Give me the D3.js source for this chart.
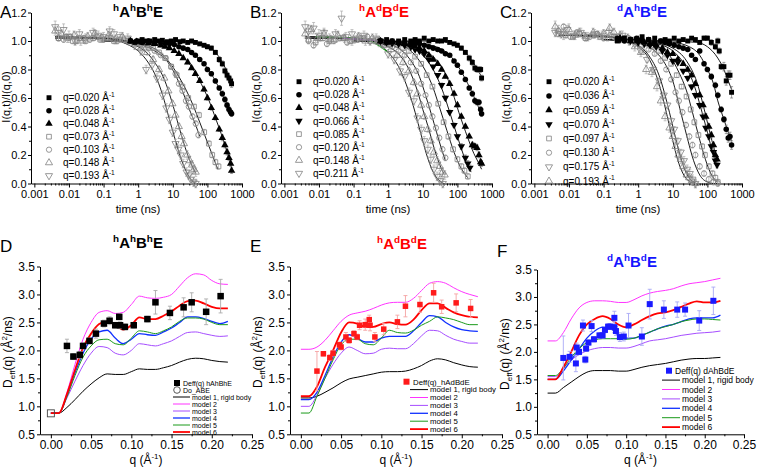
<!DOCTYPE html>
<html><head><meta charset="utf-8">
<script src="https://cdn.jsdelivr.net/npm/d3@7"></script>
<style>body{margin:0;background:#fff}svg text{font-family:Arial,"Liberation Sans",sans-serif}</style>
</head><body>
<svg id="c" width="757" height="467"></svg>
<script>
// ---------------- DATA ----------------
const topXTicks = [0.001,0.01,0.1,1,10,100,1000];
const topYTicks = [0,0.2,0.4,0.6,0.8,1.0,1.2];
const botXTicks = [0,0.05,0.10,0.15,0.20,0.25];
const botYTicks = [0.5,1.0,1.5,2.0,2.5,3.0,3.5];

// Panel A  (t [ns], I(q,t)/I(q,0), error)
const A_q = ["0.020","0.028","0.048","0.073","0.103","0.148","0.193"];
const A_sym = ["sqF","ciF","trF","sqO","ciO","trO","tdO"];
const A_pts = [
 [[0.6,1.0,0.01],[0.8,0.99,0.01],[1,1.0,0.01],[1.3,1.01,0.01],[1.7,1.0,0.01],[2.2,1.0,0.01],[3,1.01,0.01],[4,1.0,0.01],[5,1.005,0.01],[7,0.995,0.01],[9,1.0,0.01],[12,1.01,0.01],[16,0.995,0.01],[20,1.0,0.01],[27,0.99,0.01],[35,1.0,0.01],[45,0.99,0.01],[60,0.98,0.01],[80,0.97,0.01],[100,0.96,0.015],[130,0.95,0.015],[170,0.92,0.015],[220,0.87,0.02],[270,0.84,0.02],[320,0.79,0.02],[370,0.76,0.02],[420,0.74,0.02],[470,0.72,0.025],[500,0.70,0.025]],
 [[0.6,1.0,0.01],[0.9,1.0,0.01],[1.3,0.99,0.01],[2,1.0,0.01],[3,0.99,0.01],[4.5,0.99,0.01],[6,0.985,0.01],[8,0.98,0.01],[11,0.975,0.01],[15,0.96,0.01],[20,0.95,0.01],[27,0.94,0.01],[35,0.92,0.01],[45,0.9,0.01],[60,0.87,0.01],[80,0.84,0.01],[100,0.8,0.015],[130,0.77,0.015],[170,0.72,0.015],[220,0.67,0.015],[270,0.63,0.02],[320,0.59,0.02],[370,0.55,0.02],[420,0.52,0.02],[470,0.5,0.02],[500,0.49,0.02]],
 [[0.6,1.0,0.01],[0.9,0.995,0.01],[1.3,0.99,0.01],[2,0.985,0.01],[3,0.98,0.01],[4.5,0.97,0.01],[6,0.96,0.01],[8,0.95,0.01],[11,0.93,0.01],[15,0.91,0.01],[20,0.88,0.01],[27,0.85,0.01],[35,0.81,0.01],[45,0.77,0.01],[60,0.72,0.01],[80,0.66,0.015],[100,0.6,0.015],[130,0.53,0.015],[170,0.46,0.015],[220,0.38,0.015],[270,0.32,0.02],[320,0.27,0.02],[370,0.22,0.02],[420,0.18,0.02],[470,0.14,0.02],[500,0.09,0.02]],
 [[0.005,1.02,0.02],[0.008,1.03,0.02],[0.013,1.0,0.02],[0.02,1.02,0.02],[0.03,1.0,0.02],[0.05,1.02,0.02],[0.08,1.01,0.02],[0.13,1.02,0.02],[0.2,1.0,0.02],[0.3,1.01,0.02],[0.5,1.0,0.02],[0.8,0.99,0.01],[1.2,0.98,0.01],[1.8,0.97,0.01],[2.7,0.95,0.01],[4,0.92,0.01],[6,0.88,0.01],[9,0.82,0.015],[13,0.76,0.015],[19,0.68,0.015],[28,0.6,0.015],[41,0.54,0.015],[57,0.48,0.02],[81,0.36,0.02],[110,0.28,0.02],[138,0.2,0.02],[170,0.15,0.02],[210,0.12,0.02]],
 [[0.005,1.02,0.02],[0.007,1.01,0.02],[0.011,1.03,0.02],[0.017,1.0,0.02],[0.027,1.02,0.02],[0.04,1.01,0.02],[0.065,1.03,0.02],[0.1,1.01,0.02],[0.16,1.02,0.02],[0.25,1.0,0.02],[0.4,1.01,0.02],[0.6,1.0,0.02],[0.9,0.99,0.01],[1.3,0.97,0.01],[2,0.95,0.01],[3,0.93,0.01],[4.5,0.9,0.01],[6.3,0.88,0.015],[9,0.82,0.015],[12,0.77,0.015],[15,0.7,0.015],[19,0.65,0.015],[24,0.58,0.02],[29,0.54,0.02],[37,0.47,0.02],[46,0.42,0.02],[55,0.34,0.02]],
 [[0.004,1.07,0.03],[0.006,1.05,0.03],[0.009,1.02,0.03],[0.014,1.04,0.03],[0.022,1.0,0.03],[0.035,1.03,0.03],[0.055,1.05,0.03],[0.09,1.02,0.03],[0.14,1.04,0.03],[0.22,1.01,0.03],[0.35,1.03,0.03],[0.55,1.0,0.03],[0.8,0.98,0.02],[1.2,0.95,0.02],[1.8,0.92,0.02],[2.7,0.87,0.02],[4,0.8,0.02],[5.7,0.74,0.02],[7.5,0.65,0.02],[9.8,0.56,0.02],[12,0.48,0.02],[15,0.4,0.02],[18,0.33,0.02],[21,0.28,0.02],[26,0.2,0.03],[31,0.16,0.03],[36,0.13,0.03],[41,0.1,0.03],[46,0.08,0.03]],
 [[0.004,1.1,0.04],[0.005,1.06,0.04],[0.007,1.08,0.04],[0.01,1.03,0.04],[0.015,1.0,0.03],[0.02,1.05,0.03],[0.03,1.02,0.03],[0.05,1.06,0.03],[0.07,1.04,0.03],[0.1,1.03,0.03],[0.15,1.07,0.03],[0.2,1.05,0.03],[0.3,1.03,0.03],[0.5,1.02,0.03],[0.8,0.97,0.03],[1.2,0.93,0.03],[1.7,0.8,0.03],[2.5,0.83,0.03],[3.5,0.74,0.03],[5.1,0.62,0.03],[6.5,0.53,0.03],[8,0.45,0.03],[10,0.36,0.03],[12,0.28,0.03],[14.5,0.24,0.03],[17,0.2,0.03],[20,0.14,0.03],[25,0.08,0.03],[29,0.06,0.03],[33,0.03,0.03],[40,0.01,0.03],[46,0.0,0.03]]
];
const A_fit = [
 [[0.1,1.0],[1,1.0],[10,1.0],[30,0.99],[60,0.98],[100,0.96],[150,0.935],[200,0.9],[300,0.83],[400,0.77],[500,0.72]],
 [[0.1,1.0],[1,1.0],[3,0.995],[10,0.975],[20,0.95],[40,0.91],[60,0.87],[100,0.81],[170,0.72],[250,0.64],[335,0.58],[420,0.53],[500,0.49]],
 [[0.1,1.0],[1,0.995],[3,0.98],[10,0.94],[20,0.885],[30,0.84],[57,0.73],[112,0.58],[177,0.45],[250,0.35],[330,0.26],[420,0.18],[510,0.1]],
 [[0.004,1.02],[0.1,1.02],[0.5,1.0],[1,0.985],[2,0.965],[4,0.925],[8,0.85],[15,0.75],[25,0.65],[40,0.54],[60,0.43],[100,0.29],[150,0.18],[200,0.1]],
 [[0.004,1.02],[0.1,1.015],[0.5,1.0],[1,0.98],[2,0.955],[4,0.91],[6.3,0.87],[12,0.76],[19,0.65],[29,0.53],[46,0.41],[60,0.33]],
 [[0.004,1.03],[0.1,1.02],[0.5,0.99],[1,0.96],[2,0.905],[3,0.85],[5.7,0.73],[9.8,0.56],[15,0.4],[21,0.28],[30,0.17],[40,0.1],[46,0.07]],
 [[0.004,1.03],[0.1,1.02],[0.5,0.975],[1,0.93],[2,0.845],[3,0.77],[5.1,0.62],[8,0.45],[12,0.3],[17,0.18],[25,0.08],[33,0.03],[45,0.0]]
];

// Panel B
const B_q = ["0.020","0.028","0.048","0.066","0.085","0.120","0.148","0.211"];
const B_sym = ["sqF","ciF","trF","tdF","sqO","ciO","trO","tdO"];
const B_pts = [
 [[0.6,1.0,0.01],[0.9,1.01,0.01],[1.3,1.0,0.01],[2,1.0,0.01],[3,1.01,0.01],[4.5,1.0,0.01],[6,1.01,0.01],[8,1.0,0.01],[11,1.02,0.01],[15,1.0,0.01],[20,1.01,0.01],[27,1.0,0.01],[35,1.0,0.01],[45,1.01,0.01],[60,0.99,0.01],[80,0.98,0.01],[100,0.97,0.015],[130,0.95,0.015],[170,0.92,0.015],[220,0.88,0.02],[270,0.85,0.02],[320,0.81,0.02],[370,0.8,0.02],[420,0.8,0.02],[470,0.8,0.02],[500,0.74,0.02]],
 [[0.6,1.0,0.01],[0.9,0.99,0.01],[1.3,1.0,0.01],[2,0.99,0.01],[3,0.99,0.01],[4.5,0.985,0.01],[6,0.98,0.01],[8,0.98,0.01],[11,0.97,0.01],[15,0.96,0.01],[20,0.95,0.01],[27,0.94,0.01],[35,0.93,0.01],[45,0.91,0.01],[60,0.9,0.01],[80,0.86,0.01],[100,0.83,0.015],[130,0.78,0.015],[170,0.73,0.015],[220,0.67,0.015],[270,0.63,0.02],[320,0.58,0.02],[370,0.57,0.02],[420,0.57,0.02],[470,0.52,0.02],[500,0.49,0.02]],
 [[0.6,1.0,0.01],[0.9,0.99,0.01],[1.3,0.99,0.01],[2,0.985,0.01],[3,0.98,0.01],[4.5,0.97,0.01],[6,0.96,0.01],[8,0.95,0.01],[11,0.93,0.01],[15,0.9,0.01],[20,0.87,0.01],[27,0.84,0.01],[35,0.8,0.01],[45,0.75,0.01],[60,0.7,0.01],[80,0.63,0.015],[100,0.55,0.015],[130,0.47,0.015],[170,0.4,0.015],[220,0.33,0.015],[270,0.27,0.02],[320,0.26,0.02],[370,0.25,0.02],[420,0.2,0.02],[470,0.15,0.02],[500,0.14,0.02]],
 [[0.6,1.0,0.01],[0.9,0.99,0.01],[1.3,0.985,0.01],[2,0.98,0.01],[3,0.97,0.01],[4.5,0.96,0.01],[6,0.94,0.01],[8,0.93,0.01],[11,0.91,0.01],[15,0.87,0.01],[20,0.82,0.01],[27,0.76,0.01],[35,0.69,0.015],[45,0.6,0.015],[60,0.5,0.015],[80,0.41,0.015],[100,0.33,0.015],[130,0.26,0.02],[170,0.18,0.02],[200,0.14,0.02],[230,0.11,0.02]],
 [[0.005,1.01,0.02],[0.008,0.99,0.02],[0.013,1.02,0.02],[0.02,1.0,0.02],[0.03,1.01,0.02],[0.05,1.02,0.02],[0.08,1.0,0.02],[0.13,1.01,0.02],[0.2,1.02,0.02],[0.3,1.0,0.02],[0.5,1.01,0.02],[0.8,0.99,0.01],[1.2,0.98,0.01],[1.8,0.97,0.01],[2.7,0.95,0.01],[4,0.93,0.01],[6,0.89,0.01],[9,0.84,0.015],[13,0.76,0.015],[19,0.68,0.015],[28,0.56,0.015],[40,0.43,0.015],[55,0.33,0.02],[75,0.24,0.02],[100,0.17,0.02],[130,0.12,0.02],[160,0.09,0.02],[200,0.05,0.02]],
 [[0.005,1.0,0.02],[0.007,0.97,0.02],[0.011,1.02,0.02],[0.017,0.98,0.02],[0.027,1.0,0.02],[0.04,1.02,0.02],[0.065,0.99,0.02],[0.1,1.01,0.02],[0.16,1.02,0.02],[0.25,1.03,0.02],[0.4,1.0,0.02],[0.6,1.0,0.02],[0.9,0.98,0.01],[1.3,0.96,0.01],[2,0.93,0.01],[3,0.9,0.01],[4.5,0.85,0.015],[6.5,0.79,0.015],[9,0.7,0.015],[12,0.62,0.015],[15,0.55,0.02],[19,0.47,0.02],[24,0.39,0.02],[30,0.32,0.02],[37,0.24,0.02],[45,0.18,0.02]],
 [[0.004,1.05,0.03],[0.006,1.08,0.03],[0.009,1.02,0.03],[0.014,1.05,0.03],[0.022,1.01,0.03],[0.035,1.04,0.03],[0.055,1.02,0.03],[0.09,1.0,0.03],[0.14,1.03,0.03],[0.22,1.0,0.03],[0.35,1.02,0.03],[0.55,0.99,0.03],[0.8,0.97,0.02],[1.2,0.94,0.02],[1.8,0.9,0.02],[2.7,0.85,0.02],[4,0.79,0.02],[5.5,0.71,0.02],[7,0.63,0.02],[9,0.55,0.02],[11,0.47,0.02],[14,0.38,0.02],[17,0.3,0.02],[21,0.22,0.03],[26,0.16,0.03],[31,0.12,0.03],[37,0.08,0.03],[43,0.06,0.03]],
 [[0.004,1.1,0.04],[0.005,1.07,0.04],[0.007,1.09,0.04],[0.01,1.04,0.04],[0.014,1.06,0.03],[0.02,1.02,0.03],[0.03,1.05,0.03],[0.045,1.16,0.05],[0.06,1.03,0.03],[0.09,1.05,0.03],[0.13,1.02,0.03],[0.2,1.04,0.03],[0.3,1.0,0.03],[0.45,1.02,0.03],[0.7,0.98,0.03],[1,0.91,0.03],[1.5,0.87,0.03],[2.2,0.79,0.03],[3,0.75,0.03],[4,0.64,0.03],[5.5,0.58,0.03],[7,0.46,0.03],[9,0.38,0.03],[11,0.3,0.03],[14,0.24,0.03],[17,0.17,0.03],[21,0.1,0.03],[26,0.05,0.03],[32,0.02,0.03],[38,0.0,0.03]]
];
const B_fit = [
 [[0.1,1.0],[10,1.0],[30,0.995],[60,0.985],[100,0.965],[200,0.9],[300,0.84],[400,0.79],[500,0.75]],
 [[0.1,1.0],[3,0.995],[10,0.98],[30,0.95],[60,0.9],[100,0.83],[200,0.7],[300,0.61],[400,0.54],[500,0.49]],
 [[0.1,1.0],[1,1.0],[3,0.98],[10,0.94],[30,0.84],[60,0.7],[110,0.5],[200,0.32],[300,0.21],[400,0.15],[500,0.1]],
 [[0.1,1.0],[1,0.99],[3,0.97],[10,0.9],[20,0.8],[35,0.67],[60,0.5],[100,0.33],[150,0.2],[200,0.12],[250,0.08]],
 [[0.004,1.02],[0.1,1.015],[0.5,1.0],[1,0.99],[3,0.96],[6,0.9],[12,0.79],[20,0.67],[30,0.54],[50,0.37],[80,0.22],[120,0.12],[200,0.04]],
 [[0.004,1.02],[0.1,1.015],[0.5,1.0],[1,0.98],[2,0.95],[4,0.88],[8,0.75],[12,0.62],[18,0.48],[25,0.36],[35,0.24],[45,0.16]],
 [[0.004,1.03],[0.1,1.02],[0.5,0.99],[1,0.96],[2,0.91],[4,0.8],[7,0.65],[10,0.52],[15,0.38],[20,0.27],[30,0.14],[40,0.07]],
 [[0.004,1.03],[0.1,1.02],[0.5,0.98],[1,0.92],[2,0.82],[4,0.64],[6,0.5],[9,0.34],[13,0.2],[20,0.08],[30,0.02],[40,0.0]]
];
const B_green = [[0.008,1.03],[0.1,1.02],[0.3,1.0],[0.6,0.96],[1,0.92]];
const B_purple = [[0.05,1.02],[0.2,1.01],[0.5,1.0],[1,0.985]];

// Panel C
const C_q = ["0.020","0.036","0.059","0.070","0.097","0.130","0.175","0.193"];
const C_sym = ["sqF","ciF","trF","tdF","sqO","ciO","tdO","trO"];
const C_pts = [
 [[0.25,1.0,0.01],[0.4,1.02,0.01],[0.6,1.01,0.01],[0.9,1.0,0.01],[1.3,1.03,0.01],[2,1.01,0.01],[3,1.02,0.01],[4.5,1.0,0.01],[6,1.01,0.01],[8,1.0,0.01],[11,1.02,0.01],[15,1.0,0.01],[20,1.01,0.01],[27,1.0,0.01],[35,1.02,0.01],[45,1.01,0.01],[60,0.99,0.015],[80,1.02,0.015],[100,1.02,0.015],[130,0.99,0.02],[170,0.96,0.02],[200,1.0,0.02],[220,0.93,0.02],[250,0.82,0.02],[300,0.82,0.03],[350,0.72,0.03],[400,0.76,0.03],[450,0.76,0.03],[500,0.64,0.04]],
 [[0.25,1.02,0.01],[0.4,1.0,0.01],[0.6,1.01,0.01],[0.9,1.02,0.01],[1.3,1.0,0.01],[2,1.01,0.01],[3,0.99,0.01],[4.5,1.0,0.01],[6,0.99,0.01],[8,0.98,0.01],[11,0.97,0.01],[15,0.96,0.01],[20,0.95,0.01],[27,0.94,0.01],[35,0.9,0.01],[45,0.87,0.01],[60,0.93,0.015],[80,0.84,0.015],[100,0.8,0.015],[130,0.75,0.02],[170,0.69,0.02],[200,0.62,0.02],[250,0.52,0.02],[300,0.45,0.02],[350,0.38,0.03],[400,0.32,0.03],[450,0.33,0.03],[500,0.27,0.03]],
 [[0.3,1.02,0.01],[0.6,1.0,0.01],[1,1.01,0.01],[1.5,0.99,0.01],[2.2,0.98,0.01],[3.3,0.97,0.01],[5,0.95,0.01],[7,0.92,0.01],[10,0.91,0.01],[14,0.87,0.01],[20,0.84,0.01],[27,0.8,0.015],[35,0.76,0.015],[45,0.7,0.015],[60,0.62,0.015],[75,0.55,0.02],[90,0.47,0.02],[110,0.4,0.02],[130,0.34,0.02],[150,0.27,0.02],[170,0.2,0.02],[190,0.17,0.02]],
 [[0.3,1.01,0.01],[0.6,1.0,0.01],[1,0.99,0.01],[1.5,0.98,0.01],[2.2,0.97,0.01],[3.3,0.96,0.01],[5,0.93,0.01],[7,0.9,0.01],[10,0.86,0.01],[14,0.85,0.01],[20,0.79,0.01],[27,0.74,0.015],[35,0.68,0.015],[45,0.62,0.015],[60,0.55,0.015],[75,0.47,0.02],[90,0.39,0.02],[110,0.33,0.02],[130,0.26,0.02],[150,0.22,0.02],[170,0.16,0.02],[190,0.13,0.02]],
 [[0.005,1.05,0.02],[0.008,1.04,0.02],[0.013,1.03,0.02],[0.02,1.05,0.02],[0.03,1.02,0.02],[0.05,1.04,0.02],[0.08,1.03,0.02],[0.13,1.02,0.02],[0.2,1.03,0.02],[0.3,1.01,0.02],[0.5,1.02,0.02],[0.8,1.01,0.01],[1.2,1.0,0.01],[1.8,0.98,0.01],[2.7,0.96,0.01],[4,0.93,0.01],[6,0.88,0.01],[9,0.84,0.015],[13,0.76,0.015],[18,0.68,0.015],[25,0.61,0.015],[33,0.52,0.02],[42,0.43,0.02],[55,0.34,0.02],[70,0.26,0.02],[85,0.2,0.02],[110,0.12,0.02],[140,0.07,0.02],[170,0.04,0.02],[200,0.01,0.02]],
 [[0.005,1.07,0.02],[0.007,1.1,0.02],[0.011,1.03,0.02],[0.017,1.06,0.02],[0.027,1.04,0.02],[0.04,1.03,0.02],[0.065,1.05,0.02],[0.1,1.02,0.02],[0.16,1.04,0.02],[0.25,1.03,0.02],[0.4,1.02,0.02],[0.6,1.01,0.02],[0.9,0.99,0.01],[1.3,0.97,0.01],[2,0.94,0.01],[3,0.91,0.01],[4.5,0.86,0.015],[6.5,0.8,0.015],[9,0.73,0.015],[12,0.64,0.015],[15,0.58,0.02],[19,0.5,0.02],[24,0.41,0.02],[30,0.33,0.02],[37,0.27,0.02],[45,0.2,0.02],[60,0.12,0.02],[80,0.07,0.02],[110,0.03,0.02],[150,0.01,0.02],[200,0.0,0.02]],
 [[0.004,1.06,0.03],[0.006,1.05,0.03],[0.009,1.08,0.03],[0.014,1.04,0.03],[0.022,1.06,0.03],[0.035,1.03,0.03],[0.055,1.05,0.03],[0.09,1.04,0.03],[0.14,1.06,0.03],[0.22,1.02,0.03],[0.35,1.04,0.03],[0.55,1.0,0.03],[0.8,0.98,0.02],[1.2,0.93,0.02],[1.8,0.87,0.02],[2.7,0.8,0.02],[4,0.72,0.02],[5.5,0.62,0.02],[7,0.55,0.02],[9,0.44,0.02],[11,0.38,0.02],[14,0.3,0.02],[17,0.22,0.02],[21,0.16,0.03],[26,0.1,0.03],[31,0.07,0.03],[37,0.03,0.03],[45,0.0,0.03]],
 [[0.004,1.1,0.04],[0.005,1.07,0.04],[0.007,1.05,0.04],[0.01,1.08,0.04],[0.015,1.04,0.03],[0.02,1.06,0.03],[0.03,1.03,0.03],[0.05,1.06,0.03],[0.07,1.04,0.03],[0.1,1.05,0.03],[0.15,1.09,0.03],[0.2,1.06,0.03],[0.3,1.04,0.03],[0.5,1.02,0.03],[0.8,0.96,0.03],[1.2,0.92,0.03],[1.7,0.8,0.03],[2.5,0.78,0.03],[3.5,0.68,0.03],[4.5,0.58,0.03],[6,0.47,0.03],[8,0.39,0.03],[10,0.33,0.03],[12,0.26,0.03],[14.5,0.2,0.03],[17,0.17,0.03],[20,0.12,0.03],[25,0.06,0.03],[30,0.04,0.03],[36,0.02,0.03],[45,0.0,0.03]]
];
const C_fit = [
 [[0.1,1.01],[10,1.0],[50,0.99],[100,0.96],[200,0.88],[300,0.8],[400,0.72],[500,0.66]],
 [[0.1,1.01],[1,1.0],[10,0.99],[30,0.96],[60,0.9],[100,0.8],[150,0.7],[200,0.58],[300,0.45],[400,0.36],[500,0.3]],
 [[0.1,1.01],[1,1.0],[3,0.99],[10,0.95],[25,0.86],[50,0.71],[85,0.5],[120,0.35],[150,0.26],[190,0.18]],
 [[0.1,1.01],[1,1.0],[3,0.985],[10,0.93],[20,0.85],[40,0.7],[70,0.5],[100,0.36],[130,0.25],[190,0.12]],
 [[0.005,1.04],[0.1,1.03],[1,1.0],[3,0.97],[8,0.9],[15,0.78],[25,0.65],[37,0.5],[55,0.34],[80,0.2],[120,0.08],[160,0.03],[200,0.01]],
 [[0.005,1.04],[0.1,1.03],[0.5,1.01],[1,0.99],[3,0.93],[6,0.84],[10,0.72],[17,0.5],[25,0.34],[40,0.16],[60,0.06],[100,0.01],[150,0.0],[200,0.0]],
 [[0.005,1.04],[0.1,1.035],[0.5,1.0],[1,0.97],[2,0.9],[4,0.76],[8,0.5],[12,0.32],[18,0.16],[25,0.07],[35,0.02],[45,0.005]],
 [[0.005,1.04],[0.1,1.035],[0.5,1.0],[1,0.96],[2,0.88],[4,0.7],[6.5,0.5],[10,0.3],[15,0.14],[22,0.05],[30,0.015],[40,0.0]]
];

// Bottom panels: model curves sampled on q grid
const qGrid = [0,0.01,0.02,0.03,0.04,0.05,0.06,0.07,0.08,0.09,0.10,0.11,0.12,0.13,0.14,0.15,0.16,0.17,0.18,0.19,0.20,0.21,0.22];
const modelNames = ["model 1, rigid body","model 2","model 3","model 4","model 5","model 6"];
const D_models = [
 [0.88,0.88,0.98,1.12,1.27,1.4,1.51,1.58,1.57,1.57,1.62,1.67,1.66,1.66,1.69,1.73,1.79,1.84,1.86,1.85,1.82,1.80,1.79],
 [0.88,0.88,1.25,1.75,2.2,2.5,2.68,2.71,2.66,2.68,2.82,2.97,2.94,2.93,2.95,3.0,3.15,3.3,3.37,3.35,3.25,3.19,3.18],
 [0.88,0.88,1.15,1.45,1.73,1.95,2.07,2.05,1.95,1.92,2.0,2.12,2.1,2.08,2.12,2.17,2.25,2.32,2.33,2.3,2.27,2.25,2.26],
 [0.88,0.88,1.2,1.6,1.95,2.2,2.33,2.36,2.22,2.12,2.2,2.3,2.28,2.27,2.33,2.4,2.5,2.6,2.6,2.57,2.52,2.48,2.52],
 [0.88,0.88,1.17,1.55,1.88,2.08,2.19,2.2,2.12,2.1,2.22,2.35,2.33,2.3,2.35,2.42,2.52,2.58,2.58,2.56,2.5,2.46,2.46],
 [0.88,0.88,1.22,1.65,2.05,2.3,2.47,2.52,2.45,2.37,2.45,2.59,2.56,2.56,2.62,2.7,2.8,2.88,2.89,2.84,2.78,2.75,2.75]
];
const D_data = [[0.020,2.08,0.12],[0.028,1.89,0.05],[0.036,1.92,0.06],[0.040,2.08,0.05],[0.048,2.17,0.05],[0.056,2.30,0.08],[0.066,2.48,0.06],[0.073,2.53,0.07],[0.080,2.45,0.05],[0.085,2.60,0.05],[0.086,2.45,0.06],[0.092,2.42,0.05],[0.103,2.45,0.05],[0.120,2.56,0.05],[0.130,2.86,0.21],[0.148,2.67,0.12],[0.165,2.77,0.17],[0.175,2.86,0.17],[0.193,2.69,0.23],[0.211,2.97,0.3]];
const D_D0 = [0, 0.875];

const E_models = [
 [1.15,1.15,1.18,1.25,1.33,1.42,1.49,1.52,1.55,1.58,1.61,1.62,1.62,1.63,1.67,1.73,1.81,1.85,1.83,1.78,1.74,1.71,1.70],
 [2.02,2.02,2.06,2.18,2.35,2.52,2.63,2.67,2.70,2.75,2.81,2.85,2.86,2.86,2.93,3.07,3.2,3.23,3.2,3.12,3.05,3.0,2.96],
 [1.0,1.0,1.2,1.5,1.75,1.95,2.06,2.0,1.94,1.95,2.02,2.04,2.03,2.03,2.12,2.26,2.36,2.35,2.27,2.2,2.16,2.13,2.13],
 [1.12,1.12,1.25,1.55,1.88,2.15,2.28,2.22,2.15,2.15,2.22,2.25,2.25,2.25,2.35,2.5,2.62,2.6,2.5,2.42,2.37,2.35,2.34],
 [0.88,0.88,1.18,1.5,1.83,2.1,2.2,2.2,2.12,2.1,2.22,2.36,2.32,2.31,2.36,2.45,2.52,2.6,2.58,2.55,2.5,2.46,2.46],
 [1.18,1.18,1.35,1.7,2.0,2.32,2.5,2.48,2.42,2.42,2.47,2.5,2.47,2.46,2.55,2.72,2.84,2.84,2.76,2.68,2.63,2.60,2.59]
];
const E_data = [[0.020,1.63,0.35],[0.028,1.94,0.04],[0.036,1.87,0.05],[0.040,1.95,0.05],[0.048,2.10,0.05],[0.050,2.06,0.05],[0.056,2.24,0.08],[0.060,2.18,0.05],[0.066,2.30,0.05],[0.070,2.24,0.05],[0.073,2.45,0.08],[0.080,2.46,0.1],[0.085,2.55,0.08],[0.086,2.45,0.1],[0.092,2.24,0.08],[0.103,2.38,0.1],[0.120,2.51,0.12],[0.130,2.79,0.19],[0.148,2.82,0.14],[0.165,3.03,0.17],[0.175,2.78,0.12],[0.193,2.85,0.16],[0.211,2.75,0.16]];

const F_models = [
 [1.25,1.25,1.35,1.45,1.55,1.63,1.66,1.66,1.66,1.65,1.65,1.68,1.72,1.75,1.77,1.79,1.82,1.85,1.87,1.88,1.88,1.89,1.9],
 [2.2,2.2,2.35,2.6,2.8,2.9,2.93,2.93,2.92,2.9,2.9,2.95,3.02,3.07,3.1,3.12,3.15,3.2,3.24,3.26,3.28,3.31,3.34],
 [1.55,1.55,1.7,1.85,1.95,2.02,2.06,2.08,2.08,2.07,2.07,2.1,2.15,2.2,2.22,2.24,2.27,2.3,2.32,2.34,2.35,2.36,2.38],
 [1.5,1.5,1.65,1.85,2.05,2.25,2.38,2.45,2.43,2.3,2.25,2.25,2.3,2.36,2.42,2.47,2.5,2.55,2.6,2.62,2.62,2.62,2.67],
 [1.57,1.57,1.7,1.9,2.06,2.17,2.22,2.24,2.24,2.24,2.23,2.25,2.3,2.36,2.42,2.46,2.5,2.55,2.58,2.6,2.6,2.59,2.58],
 [1.5,1.5,1.72,2.0,2.3,2.5,2.6,2.65,2.6,2.5,2.45,2.5,2.58,2.65,2.7,2.72,2.76,2.82,2.88,2.92,2.9,2.9,2.93]
];
const F_data = [[0.020,1.89,0.4],[0.028,1.91,0.1],[0.036,1.79,0.15],[0.037,2.08,0.08],[0.040,2.0,0.05],[0.045,2.48,0.1],[0.048,1.86,0.06],[0.049,2.06,0.05],[0.052,2.17,0.05],[0.056,2.47,0.1],[0.059,2.23,0.05],[0.066,2.3,0.05],[0.070,2.3,0.05],[0.073,2.4,0.05],[0.077,2.46,0.05],[0.080,2.46,0.05],[0.085,2.62,0.12],[0.085,2.45,0.1],[0.087,2.38,0.08],[0.092,2.27,0.08],[0.097,2.28,0.08],[0.103,2.48,0.22],[0.120,2.28,0.16],[0.130,2.87,0.27],[0.148,2.77,0.16],[0.165,2.77,0.14],[0.175,2.77,0.12],[0.193,2.57,0.18],[0.211,2.93,0.25]];

// ---------------- DRAWING ----------------
const svg = d3.select("#c");
const SYM = {sqF:[d3.symbolSquare,true,0,24], ciF:[d3.symbolCircle,true,0,24], trF:[d3.symbolTriangle,true,0,24], tdF:[d3.symbolTriangle,true,180,24],
             sqO:[d3.symbolSquare,false,0,22], ciO:[d3.symbolCircle,false,0,22], trO:[d3.symbolTriangle,false,0,22], tdO:[d3.symbolTriangle,false,180,22]};
const OPEN_COL = "#808080";

function drawSym(g, key, cx, cy) {
  const [type, filled, rot, size] = SYM[key];
  g.append("path").attr("d", d3.symbol().type(type).size(size)())
    .attr("transform", `translate(${cx},${cy}) rotate(${rot})`)
    .attr("fill", filled ? "#000" : "none")
    .attr("stroke", filled ? "none" : OPEN_COL).attr("stroke-width", 0.8);
}

function rich(g, x, y, parts, size, anchor, color, weight) {
  const t = g.append("text").attr("x", x).attr("y", y).attr("font-size", size)
    .attr("text-anchor", anchor || "start").attr("fill", color || "#000");
  if (weight) t.attr("font-weight", weight);
  let shift = 0;
  parts.forEach(([s, k]) => {
    const target = k === "sup" ? -size * 0.42 : (k === "sub" ? size * 0.25 : 0);
    const ts = t.append("tspan").text(s).attr("dy", target - shift);
    if (k !== "n") ts.attr("font-size", size * 0.66);
    shift = target;
  });
  return t;
}

function styleAxis(ax, fs) {
  ax.selectAll("path.domain").attr("stroke", "#000").attr("stroke-width", 1);
  ax.selectAll(".tick line").attr("stroke", "#000").attr("stroke-width", 1);
  ax.selectAll(".tick text").attr("font-size", fs).attr("fill", "#000").attr("font-family", "Arial, 'Liberation Sans', sans-serif");
}

function title(g, cx, y, letters, color) {
  rich(g, cx, y, [[letters[0], "sup"], ["A", "n"], [letters[1], "sup"], ["B", "n"], [letters[2], "sup"], ["E", "n"]], 15, "middle", color, "bold");
}

function topPanel(p) {
  const ox = p.ox;
  const x = d3.scaleLog().domain([0.0008, 1000]).range([ox + 31, ox + 242]);
  const y = d3.scaleLinear().domain([0, 1.2]).range([183.5, 12.5]);
  const g = svg.append("g");
  const minorX = x.ticks().filter(v => !topXTicks.some(m => Math.abs(m - v) / m < 1e-6) && v >= 0.001);
  const axm = g.append("g").attr("transform", "translate(0,183.5)")
    .call(d3.axisBottom(x).tickValues(minorX).tickFormat("").tickSizeInner(2).tickSizeOuter(0));
  axm.select(".domain").remove(); styleAxis(axm, 10);
  const ax = g.append("g").attr("transform", "translate(0,183.5)")
    .call(d3.axisBottom(x).tickValues(topXTicks).tickFormat(d => String(d)).tickSizeInner(4).tickSizeOuter(0).tickPadding(2.5));
  styleAxis(ax, 11);
  const aym = g.append("g").attr("transform", `translate(${ox + 31},0)`)
    .call(d3.axisLeft(y).tickValues([0.1, 0.3, 0.5, 0.7, 0.9, 1.1]).tickFormat("").tickSizeInner(2).tickSizeOuter(0));
  aym.select(".domain").remove(); styleAxis(aym, 10);
  const ay = g.append("g").attr("transform", `translate(${ox + 31},0)`)
    .call(d3.axisLeft(y).tickValues(topYTicks).tickFormat(d3.format(".1f")).tickSizeInner(3).tickSizeOuter(0).tickPadding(1.5));
  styleAxis(ay, 11);

  // axis titles
  g.append("text").attr("x", ox + 138).attr("y", 213).attr("text-anchor", "middle").attr("font-size", 11.5).text("time (ns)");
  g.append("text").attr("transform", `translate(${ox + 10},97) rotate(-90)`).attr("text-anchor", "middle").attr("font-size", 11).text("I(q,t)/I(q,0)");
  g.append("text").attr("x", ox).attr("y", 18).attr("font-size", 17).text(p.letter);
  title(g, p.tx, 17, p.sup, p.color);

  const line = d3.line().x(d => x(d[0])).y(d => y(d[1])).curve(d3.curveMonotoneX);
  p.fits.forEach(f => g.append("path").attr("d", line(f)).attr("fill", "none").attr("stroke", "#000").attr("stroke-width", 0.9));
  (p.extra || []).forEach(([arr, col]) => g.append("path").attr("d", line(arr)).attr("fill", "none").attr("stroke", col).attr("stroke-width", 1.2));

  for (let i = p.pts.length - 1; i >= 0; i--) {
    const filled = SYM[p.sym[i]][1];
    const ec = filled ? "#777" : "#aaa";
    p.pts[i].forEach(([t, v, e]) => {
      const cx = x(t), y0 = y(v - e), y1 = y(v + e);
      if (y0 - y1 > 2) {
        g.append("line").attr("x1", cx).attr("x2", cx).attr("y1", y0).attr("y2", y1).attr("stroke", ec).attr("stroke-width", 0.7);
        g.append("line").attr("x1", cx - 1.5).attr("x2", cx + 1.5).attr("y1", y0).attr("y2", y0).attr("stroke", ec).attr("stroke-width", 0.7);
        g.append("line").attr("x1", cx - 1.5).attr("x2", cx + 1.5).attr("y1", y1).attr("y2", y1).attr("stroke", ec).attr("stroke-width", 0.7);
      }
    });
    p.pts[i].forEach(([t, v]) => drawSym(g, p.sym[i], x(t), y(v)));
  }
  // legend
  p.q.forEach((q, i) => {
    const cy = p.legY0 + i * p.legDy;
    drawSym(g, p.sym[i], ox + 49, cy);
    rich(g, ox + 63, cy + 3.5, [["q=" + q + " Å", "n"], ["-1", "sup"]], 10, "start", "#000");
  });
}

topPanel({ox: 0, letter: "A", tx: 138, sup: "hhh", color: "#000", q: A_q, sym: A_sym, pts: A_pts, fits: A_fit, legY0: 97.7, legDy: 13});
topPanel({ox: 250, letter: "B", tx: 384, sup: "hdd", color: "#ff0000", q: B_q, sym: B_sym, pts: B_pts, fits: B_fit, legY0: 81.7, legDy: 13.1,
          extra: [[B_green, "#1a9a1a"], [B_purple, "#9933cc"]]});
topPanel({ox: 500, letter: "C", tx: 642, sup: "dhd", color: "#1414ff", q: C_q, sym: C_sym, pts: C_pts, fits: C_fit, legY0: 81.7, legDy: 14.2});

const modelColors = ["#000000", "#ff33ff", "#a64dff", "#1030ff", "#1a9a1a", "#ff0000"];
const modelWidths = [1, 1, 1, 1.3, 1, 1.8];

function bottomPanel(p) {
  const ox = p.ox;
  const x = d3.scaleLinear().domain([-0.0135, 0.25]).range([ox + 40, ox + p.xr]);
  const y = d3.scaleLinear().domain([0.5, 3.5]).range([434.3, p.yTop]);
  const g = svg.append("g");
  const axm = g.append("g").attr("transform", "translate(0,434.3)")
    .call(d3.axisBottom(x).tickValues([0.025, 0.075, 0.125, 0.175, 0.225]).tickFormat("").tickSizeInner(2).tickSizeOuter(0));
  axm.select(".domain").remove(); styleAxis(axm, 10);
  const ax = g.append("g").attr("transform", "translate(0,434.3)")
    .call(d3.axisBottom(x).tickValues(botXTicks).tickFormat(d3.format(".2f")).tickSizeInner(4).tickSizeOuter(0).tickPadding(2.5));
  styleAxis(ax, 12);
  const aym = g.append("g").attr("transform", `translate(${ox + 40},0)`)
    .call(d3.axisLeft(y).tickValues([0.75, 1.25, 1.75, 2.25, 2.75, 3.25]).tickFormat("").tickSizeInner(2).tickSizeOuter(0));
  aym.select(".domain").remove(); styleAxis(aym, 10);
  const ay = g.append("g").attr("transform", `translate(${ox + 40},0)`)
    .call(d3.axisLeft(y).tickValues(botYTicks).tickFormat(d3.format(".1f")).tickSizeInner(3).tickSizeOuter(0).tickPadding(2));
  styleAxis(ay, 12);

  rich(g, ox + 40 + (p.xr - 40) / 2, 464, [["q (Å", "n"], ["-1", "sup"], [")", "n"]], 12, "middle", "#000");
  const yl = rich(g, 0, 0, [["D", "n"], ["eff", "sub"], ["(q) (Å", "n"], ["2", "sup"], ["/ns)", "n"]], 12, "middle", "#000");
  yl.attr("transform", `translate(${ox + 12},${p.yLab}) rotate(-90)`);
  g.append("text").attr("x", ox).attr("y", p.letterY).attr("font-size", 17).text(p.letter);
  title(g, p.tx, p.titleY, p.sup, p.color);

  const line = d3.line().x(d => x(d[0])).y(d => y(d[1])).curve(d3.curveMonotoneX);
  p.models.forEach((m, i) => {
    g.append("path").attr("d", line(qGrid.map((q, j) => [q, m[j]]))).attr("fill", "none")
      .attr("stroke", modelColors[i]).attr("stroke-width", modelWidths[i]);
  });
  p.data.forEach(([q, v, e]) => {
    const cx = x(q);
    g.append("line").attr("x1", cx).attr("x2", cx).attr("y1", y(v - e)).attr("y2", y(v + e)).attr("stroke", p.errColor).attr("stroke-width", 0.9);
    g.append("line").attr("x1", cx - 2).attr("x2", cx + 2).attr("y1", y(v - e)).attr("y2", y(v - e)).attr("stroke", p.errColor).attr("stroke-width", 0.9);
    g.append("line").attr("x1", cx - 2).attr("x2", cx + 2).attr("y1", y(v + e)).attr("y2", y(v + e)).attr("stroke", p.errColor).attr("stroke-width", 0.9);
  });
  p.data.forEach(([q, v]) => {
    g.append("rect").attr("x", x(q) - p.ms / 2).attr("y", y(v) - p.ms / 2).attr("width", p.ms).attr("height", p.ms).attr("fill", p.dataColor);
  });
  if (p.d0) {
    g.append("rect").attr("x", x(p.d0[0]) - 3.5).attr("y", y(p.d0[1]) - 3.5).attr("width", 7).attr("height", 7)
      .attr("fill", "none").attr("stroke", "#444").attr("stroke-width", 0.9);
  }
  // legend
  const L = p.leg;
  let row = 0;
  const rowY = i => L.y0 + i * L.dy;
  g.append("rect").attr("x", L.symX - 3).attr("y", rowY(row) - 3).attr("width", 6).attr("height", 6).attr("fill", p.dataColor);
  g.append("text").attr("x", L.dataTextX).attr("y", rowY(row) + L.fs * 0.36).attr("font-size", L.fs).text(p.dataLabel);
  row++;
  if (p.d0) {
    g.append("circle").attr("cx", L.symX).attr("cy", rowY(row)).attr("r", 3.3).attr("fill", "none").attr("stroke", "#444").attr("stroke-width", 0.9);
    g.append("text").attr("x", L.dataTextX).attr("y", rowY(row) + L.fs * 0.36).attr("font-size", L.fs).text("Do_ABE");
    row++;
  }
  modelNames.forEach((nm, i) => {
    const cy = rowY(row);
    g.append("line").attr("x1", L.lx0).attr("x2", L.lx1).attr("y1", cy).attr("y2", cy).attr("stroke", modelColors[i]).attr("stroke-width", modelWidths[i]);
    g.append("text").attr("x", L.textX).attr("y", cy + L.fs * 0.36).attr("font-size", L.fs).text(nm);
    row++;
  });
}

bottomPanel({ox: 0, xr: 252, yTop: 266.5, letter: "D", letterY: 252, tx: 138, titleY: 248, sup: "hhh", color: "#000", yLab: 352,
  models: D_models, data: D_data, dataColor: "#000", errColor: "#aaaaaa", ms: 6.5, d0: D_D0, dataLabel: "Deff(q) hAhBhE",
  leg: {y0: 383, dy: 7, fs: 7, symX: 177, dataTextX: 183, lx0: 173, lx1: 190, textX: 192}});
bottomPanel({ox: 250, xr: 252, yTop: 266.5, letter: "E", letterY: 252, tx: 402, titleY: 249, sup: "hdd", color: "#ff0000", yLab: 352,
  models: E_models, data: E_data, dataColor: "#ff1a1a", errColor: "#f5a3a3", ms: 5.5, dataLabel: "Deff(q)_hAdBdE",
  leg: {y0: 381.7, dy: 7.9, fs: 7.8, symX: 406.5, dataTextX: 413, lx0: 410, lx1: 428, textX: 430}});
bottomPanel({ox: 497, xr: 247, yTop: 269.5, letter: "F", letterY: 257, tx: 632, titleY: 267, sup: "dhd", color: "#1414ff", yLab: 354,
  models: F_models, data: F_data, dataColor: "#1a1aff", errColor: "#a8a8f5", ms: 6, dataLabel: "Deff(q) dAhBdE",
  leg: {y0: 370.7, dy: 9.4, fs: 8.5, symX: 669, dataTextX: 675, lx0: 662, lx1: 680, textX: 682}});
</script>
</body></html>
